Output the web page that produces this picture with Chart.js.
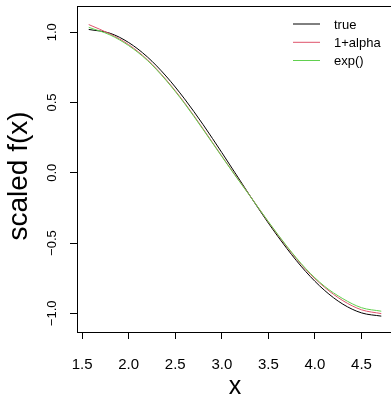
<!DOCTYPE html>
<html>
<head>
<meta charset="utf-8">
<script src="https://cdn.jsdelivr.net/npm/chart.js@4"></script>
<style>
html,body{margin:0;padding:0;background:#fff;overflow:hidden;width:391px;height:400px;}
#c{display:block;}
</style>
</head>
<body>
<canvas id="c" width="396" height="400" style="width:396px;height:400px"></canvas>
<script>
const xValues = [1.5708, 1.8, 2.0, 2.2, 2.4, 2.6, 2.8, 3.0, 3.1416, 3.3, 3.5, 3.7, 3.9, 4.1, 4.3, 4.5, 4.7124];
const trueValues = [1.020, 0.993, 0.927, 0.825, 0.689, 0.526, 0.342, 0.144, 0.000, -0.161, -0.358, -0.540, -0.702, -0.835, -0.935, -0.997, -1.020];
const alphaValues = [1.055, 0.988, 0.912, 0.805, 0.664, 0.498, 0.312, 0.119, -0.015, -0.161, -0.350, -0.528, -0.687, -0.813, -0.910, -0.975, -1.002];
const expValues = [1.035, 0.981, 0.905, 0.800, 0.659, 0.493, 0.307, 0.116, -0.018, -0.163, -0.348, -0.524, -0.681, -0.806, -0.896, -0.960, -0.985];
const seriesNames = ["true", "1+alpha", "exp()"];
const seriesColors = ["#000000", "#DF536B", "#61D04F"];
const xTicks = [1.5, 2.0, 2.5, 3.0, 3.5, 4.0, 4.5];
const yTicks = [-1.0, -0.5, 0.0, 0.5, 1.0];
const xLabel = "x";
const yLabel = "scaled f(x)";

const FONT = "'Liberation Sans', Arial, Helvetica, sans-serif";
const fmt = v => { const s = Number(v).toFixed(1); return s.replace('-', '\u2212'); };
const toPts = arr => arr.map((y, i) => ({x: xValues[i], y: y}));

const boxAndLegend = {
  id: 'boxAndLegend',
  afterDatasetsDraw(chart) {
    const {ctx, chartArea: a} = chart;
    ctx.save();
    ctx.strokeStyle = '#000';
    ctx.lineWidth = 1;
    ctx.strokeRect(Math.round(a.left) + 0.5, Math.round(a.top) + 0.5, Math.round(a.right - a.left), Math.round(a.bottom - a.top));
    // legend (no box)
    const x0 = 293, x1 = 320, tx = 334;
    const rows = [24, 42.3, 60.5];
    ctx.font = "13px " + FONT;
    ctx.textBaseline = 'middle';
    ctx.textAlign = 'left';
    for (let i = 0; i < seriesNames.length; i++) {
      ctx.strokeStyle = seriesColors[i];
      ctx.lineWidth = 1;
      ctx.beginPath();
      ctx.moveTo(x0, rows[i]);
      ctx.lineTo(x1, rows[i]);
      ctx.stroke();
      ctx.fillStyle = '#000';
      ctx.fillText(seriesNames[i], tx, rows[i] + 1);
    }
    // y axis title
    ctx.translate(19, 176);
    ctx.rotate(-Math.PI / 2);
    ctx.font = "28px " + FONT;
    ctx.textAlign = 'center';
    ctx.textBaseline = 'middle';
    ctx.fillStyle = '#000';
    ctx.fillText(yLabel, 0, 0);
    ctx.restore();
  }
};

new Chart(document.getElementById('c'), {
  type: 'line',
  data: {
    datasets: [
      {label: seriesNames[0], data: toPts(trueValues), borderColor: seriesColors[0], order: 2},
      {label: seriesNames[1], data: toPts(alphaValues), borderColor: seriesColors[1], order: 1},
      {label: seriesNames[2], data: toPts(expValues), borderColor: seriesColors[2], order: 0}
    ]
  },
  options: {
    responsive: false,
    animation: false,
    devicePixelRatio: 1,
    layout: {padding: {top: 6, right: 3, left: 0, bottom: 0}},
    elements: {
      line: {borderWidth: 1, cubicInterpolationMode: 'monotone', fill: false},
      point: {radius: 0}
    },
    plugins: {legend: {display: false}, tooltip: {enabled: false}},
    scales: {
      x: {
        type: 'linear',
        min: 1.4451,
        max: 4.8381,
        afterBuildTicks: s => { s.ticks = xTicks.map(v => ({value: v})); },
        afterFit: s => { s.height = 68; s.paddingLeft = 0; s.paddingRight = 0; },
        grid: {drawOnChartArea: false, drawTicks: true, tickLength: 7, tickColor: '#000', tickWidth: 1},
        border: {display: false},
        ticks: {color: '#000', font: {family: FONT, size: 15}, padding: 17, maxRotation: 0, autoSkip: false, callback: v => fmt(v)},
        title: {display: true, text: xLabel, color: '#000', font: {family: FONT, size: 25}, padding: {top: 0, bottom: -2}}
      },
      y: {
        type: 'linear',
        min: -1.133,
        max: 1.187,
        afterBuildTicks: s => { s.ticks = yTicks.map(v => ({value: v})); },
        afterFit: s => { s.width = 77; s.paddingTop = 0; s.paddingBottom = 0; },
        grid: {drawOnChartArea: false, drawTicks: true, tickLength: 7, tickColor: '#000', tickWidth: 1},
        border: {display: false},
        ticks: {color: '#000', font: {family: FONT, size: 13}, padding: 5, minRotation: 90, maxRotation: 90, crossAlign: 'center', autoSkip: false, callback: v => fmt(v)},
        title: {display: false}
      }
    }
  },
  plugins: [boxAndLegend]
});
</script>
</body>
</html>
